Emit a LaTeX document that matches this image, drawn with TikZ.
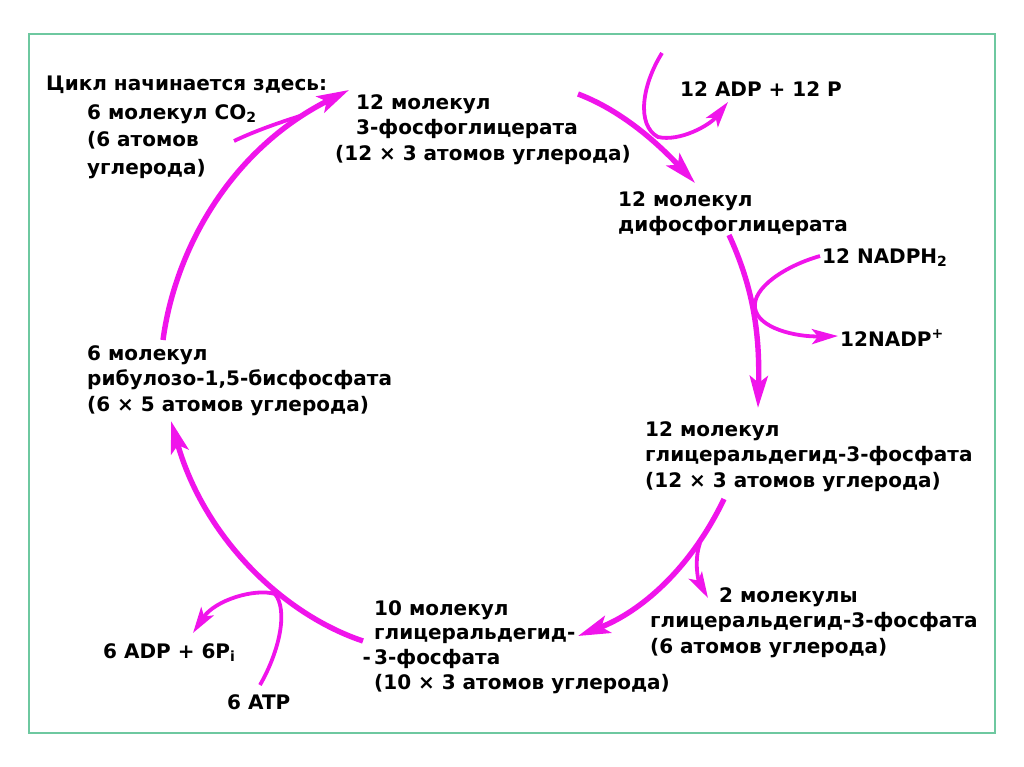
\documentclass[tikz,border=0pt]{standalone}
\usepackage{fontspec}
\setmainfont{DejaVu Sans}
\usetikzlibrary{arrows.meta}
\definecolor{cyclemag}{RGB}{240,20,235}
\definecolor{framegreen}{RGB}{110,200,160}
\tikzset{
  txt/.style={font=\fontsize{20}{25.5}\selectfont\bfseries, align=left, inner sep=0pt, anchor=north west},
  cyclearrow/.style={draw=cyclemag, line width=5.4pt, -{Stealth[length=32pt,width=18pt,inset=7pt]}},
  sidearrow/.style={draw=cyclemag, line width=3.8pt, -{Stealth[length=26pt,width=15pt,inset=6pt]}},
  sideline/.style={draw=cyclemag, line width=3.8pt}
}
\begin{document}
\begin{tikzpicture}[x=1pt,y=-1pt]
        \useasboundingbox (0,0) rectangle (1024,767);
        \draw[framegreen, line width=1.5pt] (29,34) rectangle (995,733);

        % substances
        \node[txt] (start) at (46,76) {Цикл начинается здесь:};
        \node[txt, font=\fontsize{20}{27.5}\selectfont\bfseries] (co2) at (87,104) {6 молекул CO\textsubscript{2}\\(6 атомов\\углерода)};
        \node[txt] (pga) at (335,94) {\hspace*{21pt}12 молекул\\\hspace*{21pt}3-фосфоглицерата\\(12 × 3 атомов углерода)};
        \node[txt] (dpga) at (618,191) {12 молекул\\дифосфоглицерата};
        \node[txt] (gap) at (645,421) {12 молекул\\глицеральдегид-3-фосфата\\(12 × 3 атомов углерода)};
        \node[txt] (gap2) at (650,587) {\hspace*{69pt}2 молекулы\\глицеральдегид-3-фосфата\\(6 атомов углерода)};
        \node[txt, font=\fontsize{20}{24.7}\selectfont\bfseries] (gap10) at (374,600) {10 молекул\\глицеральдегид-\\\llap{-\,}3-фосфата\\(10 × 3 атомов углерода)};
        \node[txt] (rubp) at (87,345) {6 молекул\\рибулозо-1,5-бисфосфата\\(6 × 5 атомов углерода)};

        % cofactors
        \node[txt] (adp12) at (680,81) {12 ADP + 12 P};
        \node[txt] (nadph) at (822,248) {12 NADPH\textsubscript{2}};
        \node[txt] (nadp) at (840,330) {12NADP\textsuperscript{+}};
        \node[txt] (adp6) at (103,643) {6 ADP + 6P\textsubscript{i}};
        \node[txt] (atp6) at (227,694) {6 ATP};

        % ends of the arrows
        \coordinate (rubpOut) at (163,340);
        \coordinate (pgaIn) at (349,90);
        \coordinate (co2Out) at (234,141);
        \coordinate (co2Join) at (300,116);
        \coordinate (pgaOut) at (578,94);
        \coordinate (dpgaIn) at (695,183);
        \coordinate (adpIn) at (662,53);
        \coordinate (adpOut) at (728,102);
        \coordinate (dpgaOut) at (729,235);
        \coordinate (gapIn) at (758,408);
        \coordinate (nadphIn) at (820,256);
        \coordinate (nadpOut) at (838,336);
        \coordinate (gapOut) at (724,499);
        \coordinate (gap10In) at (578,636);
        \coordinate (splitTwo) at (700,543);
        \coordinate (gap2In) at (708,598);
        \coordinate (gap10Out) at (363,641);
        \coordinate (rubpIn) at (171,421);
        \coordinate (atpIn) at (260,685);
        \coordinate (adp6Out) at (193,633);

        % the cycle
        \draw[cyclearrow] (rubpOut) .. controls (175,250) and (230,150) .. (pgaIn);
        \draw[sideline] (co2Out) .. controls (255,131) and (278,123) .. (co2Join);
        \draw[cyclearrow] (pgaOut) .. controls (615,108) and (650,135) .. (dpgaIn);
        \draw[sidearrow] (adpIn) .. controls (642,85) and (636,125) .. (658,137) .. controls (680,142) and (710,125) .. (adpOut);
        \draw[cyclearrow] (dpgaOut) .. controls (752,285) and (760,330) .. (gapIn);
        \draw[sidearrow] (nadphIn) .. controls (785,266) and (752,288) .. (755,308) .. controls (758,328) and (795,337) .. (nadpOut);
        \draw[cyclearrow] (gapOut) .. controls (690,570) and (640,612) .. (gap10In);
        \draw[sidearrow] (splitTwo) .. controls (694,560) and (698,580) .. (gap2In);
        \draw[cyclearrow] (gap10Out) .. controls (285,615) and (205,540) .. (rubpIn);
        \draw[sidearrow] (atpIn) .. controls (280,650) and (288,610) .. (275,594) .. controls (255,588) and (215,600) .. (adp6Out);
\end{tikzpicture}
\end{document}
